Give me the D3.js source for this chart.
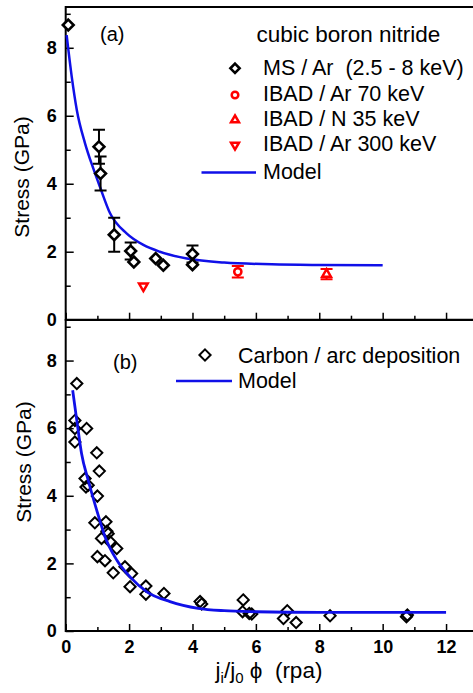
<!DOCTYPE html>
<html>
<head>
<meta charset="utf-8">
<script src="https://cdn.jsdelivr.net/npm/d3@7/dist/d3.min.js"></script>
<style>
  html, body { margin: 0; padding: 0; background: #fff; }
  svg { display: block; font-family: "Liberation Sans", Arial, sans-serif; }
</style>
</head>
<body>
<svg id="chart" width="473" height="693"></svg>
<script>
// ---- Panel (a): cubic boron nitride ----
const msX    = [0.08, 1.05, 1.1, 1.53, 2.05, 2.15, 2.84, 3.08, 4.0, 4.0];
const msY    = [8.67, 5.09, 4.3, 2.5, 2.02, 1.7, 1.8, 1.6, 1.93, 1.62];
const msErr  = [0, 0.5, 0.5, 0.5, 0.25, 0, 0, 0, 0.25, 0];
const ibadAr70X = [5.43], ibadAr70Y = [1.41], ibadAr70Err = [0.17];
const ibadN35X  = [8.23], ibadN35Y  = [1.34], ibadN35Err  = [0.15];
const ibadAr300X = [2.45], ibadAr300Y = [0.99];
const modelAX = [0.03, 0.19, 0.35, 0.61, 0.87, 1.08, 1.4, 1.92, 2.45, 2.97, 3.82, 5.0, 6.5, 8.0, 10.0];
const modelAY = [8.37, 7.15, 6.17, 5.19, 4.45, 3.91, 3.13, 2.54, 2.2, 2.0, 1.8, 1.68, 1.63, 1.61, 1.6];

// ---- Panel (b): carbon / arc deposition ----
const carbonX = [0.35, 0.29, 0.66, 0.29, 0.29, 0.98, 1.06, 0.61, 0.64, 0.71, 1.0, 0.92, 1.27, 1.3, 1.34,
                 1.13, 1.4, 1.61, 1.0, 1.24, 1.5, 1.87, 2.08, 2.03, 2.53, 2.53, 3.1, 4.24, 4.29, 5.6,
                 5.58, 5.79, 5.87, 6.99, 6.87, 7.27, 8.34, 10.78, 10.75];
const carbonY = [7.32, 6.23, 5.99, 5.99, 5.59, 5.27, 4.73, 4.51, 4.26, 4.31, 3.99, 3.2, 3.23, 2.95, 2.88,
                 2.74, 2.64, 2.44, 2.2, 2.08, 1.72, 1.9, 1.7, 1.31, 1.33, 1.09, 1.11, 0.87, 0.8, 0.92,
                 0.57, 0.52, 0.5, 0.6, 0.37, 0.25, 0.45, 0.47, 0.42];
const modelBX = [0.22, 0.35, 0.5, 0.71, 0.98, 1.24, 1.61, 2.03, 2.56, 3.29, 4.18, 5.0, 6.0, 8.0, 10.0, 12.0];
const modelBY = [7.12, 6.23, 5.25, 4.46, 3.57, 2.79, 2.1, 1.6, 1.16, 0.87, 0.67, 0.6, 0.57, 0.55, 0.55, 0.55];

// ---- Axis ticks ----
const xMajor = [0, 2, 4, 6, 8, 10, 12];
const xMinor = [1, 3, 5, 7, 9, 11];
const yMajor = [0, 2, 4, 6, 8];
const yMinor = [1, 3, 5, 7, 9];

const svg = d3.select("#chart");
const blue = "#1010e8", red = "#ff0000";

const x = d3.scaleLinear().domain([0, 12.85]).range([65.7, 473]);

function zip(xs, ys, extra) {
  return xs.map((v, i) => ({ x: v, y: ys[i], e: extra ? extra[i] : 0 }));
}

// square diamond (rotated square) with half-diagonal h
const diamond = h => `M0,${-h}L${h},0L0,${h}L${-h},0Z`;
// triangles with circumradius r
const triUpPath = r => `M0,${-r}L${r * 0.866},${r / 2}L${-r * 0.866},${r / 2}Z`;
const triDownPath = r => `M0,${r}L${r * 0.866},${-r / 2}L${-r * 0.866},${-r / 2}Z`;

function drawFrame(g, y, showXLabels) {
  const y0 = y.range()[0], y1 = y.range()[1];
  g.append("g").attr("transform", `translate(0,${y0})`)
    .call(d3.axisBottom(x).tickValues(xMinor).tickSizeInner(-4).tickSizeOuter(0).tickFormat(""))
    .call(a => a.select(".domain").remove())
    .call(a => a.selectAll("line").attr("stroke-width", 1.5));
  g.append("g").attr("transform", `translate(0,${y0})`)
    .call(d3.axisBottom(x).tickValues(xMajor).tickSizeInner(-7).tickSizeOuter(0).tickPadding(9)
      .tickFormat(showXLabels ? d3.format("d") : ""))
    .call(a => a.select(".domain").remove())
    .call(a => a.selectAll("line").attr("stroke-width", 1.5))
    .call(a => a.selectAll("text").attr("font-size", 18).attr("font-weight", "bold")
      .attr("font-family", "Liberation Sans, Arial, sans-serif").attr("fill", "#000"));
  g.append("g").attr("transform", `translate(${x(0)},0)`)
    .call(d3.axisLeft(y).tickValues(yMinor).tickSizeInner(-5).tickSizeOuter(0).tickFormat(""))
    .call(a => a.select(".domain").remove())
    .call(a => a.selectAll("line").attr("stroke-width", 1.5));
  g.append("g").attr("transform", `translate(${x(0)},0)`)
    .call(d3.axisLeft(y).tickValues(yMajor).tickSizeInner(-8).tickSizeOuter(0).tickPadding(9).tickFormat(d3.format("d")))
    .call(a => a.select(".domain").remove())
    .call(a => a.selectAll("line").attr("stroke-width", 1.5))
    .call(a => a.selectAll("text").attr("font-size", 18).attr("font-weight", "bold")
      .attr("font-family", "Liberation Sans, Arial, sans-serif").attr("fill", "#000"));
  g.append("path")
    .attr("d", `M${x.range()[1] + 2},${y1}H${x(0)}V${y0}H${x.range()[1] + 2}`)
    .attr("fill", "none").attr("stroke", "#000").attr("stroke-width", 2);
}

function yTitle(g, cx, cy) {
  g.append("text").attr("transform", `translate(${cx},${cy}) rotate(-90)`)
    .attr("text-anchor", "middle").attr("font-size", 21).text("Stress (GPa)");
}

// ================= Panel (a) =================
const yA = d3.scaleLinear().domain([0, 9.2]).range([319.7, 7]);
const gA = svg.append("g");
drawFrame(gA, yA, false);
yTitle(gA, 29, 177);

const lineA = d3.line().x(d => x(d.x)).y(d => yA(d.y)).curve(d3.curveMonotoneX);
gA.append("path").datum(zip(modelAX, modelAY)).attr("d", lineA)
  .attr("fill", "none").attr("stroke", blue).attr("stroke-width", 2.5);

function errorBars(g, data, y, color) {
  const eb = g.append("g").attr("stroke", color).attr("stroke-width", 2).attr("fill", "none");
  data.filter(d => d.e > 0).forEach(d => {
    const px = x(d.x), t = y(d.y + d.e), b = y(d.y - d.e);
    eb.append("path").attr("d", `M${px},${t}V${b}M${px - 6},${t}H${px + 6}M${px - 6},${b}H${px + 6}`);
  });
}
const msData = zip(msX, msY, msErr);
errorBars(gA, msData, yA, "#000");
errorBars(gA, zip(ibadAr70X, ibadAr70Y, ibadAr70Err), yA, red);
errorBars(gA, zip(ibadN35X, ibadN35Y, ibadN35Err), yA, red);

gA.append("g").selectAll("path").data(msData).join("path")
  .attr("d", diamond(5.4)).attr("transform", d => `translate(${x(d.x)},${yA(d.y)})`)
  .attr("fill", "#fff").attr("stroke", "#000").attr("stroke-width", 2.6);
gA.append("g").selectAll("circle").data(zip(ibadAr70X, ibadAr70Y)).join("circle")
  .attr("cx", d => x(d.x)).attr("cy", d => yA(d.y)).attr("r", 3.6)
  .attr("fill", "#fff").attr("stroke", red).attr("stroke-width", 2.5);
gA.append("g").selectAll("path").data(zip(ibadN35X, ibadN35Y)).join("path")
  .attr("d", triUpPath(5)).attr("transform", d => `translate(${x(d.x)},${yA(d.y)})`)
  .attr("fill", "#fff").attr("stroke", red).attr("stroke-width", 2.5);
gA.append("g").selectAll("path").data(zip(ibadAr300X, ibadAr300Y)).join("path")
  .attr("d", triDownPath(5)).attr("transform", d => `translate(${x(d.x)},${yA(d.y)})`)
  .attr("fill", "#fff").attr("stroke", red).attr("stroke-width", 2.5);

gA.append("text").attr("x", 100).attr("y", 41).attr("font-size", 20).text("(a)");

// legend (a)
const legA = gA.append("g").attr("font-size", 21.5);
legA.append("text").attr("x", 256.5).attr("y", 41.5).attr("font-size", 22.5).text("cubic boron nitride");
const legRowsA = [
  { label: "MS / Ar\u00a0\u00a0(2.5 - 8 keV)", y: 68.3, base: 74.5, kind: "diamond" },
  { label: "IBAD / Ar 70 keV", y: 95, base: 101, kind: "circle" },
  { label: "IBAD / N 35 keV", y: 120, base: 126, kind: "up" },
  { label: "IBAD / Ar 300 keV", y: 145, base: 151, kind: "down" }
];
legRowsA.forEach(r => {
  const sx = 235;
  if (r.kind === "diamond") {
    legA.append("path").attr("d", diamond(4.6)).attr("transform", `translate(${sx},${r.y})`)
      .attr("fill", "#fff").attr("stroke", "#000").attr("stroke-width", 2.6);
  } else if (r.kind === "circle") {
    legA.append("circle").attr("cx", sx).attr("cy", r.y).attr("r", 3.3)
      .attr("fill", "#fff").attr("stroke", red).attr("stroke-width", 2.5);
  } else if (r.kind === "up") {
    legA.append("path").attr("d", triUpPath(4.6)).attr("transform", `translate(${sx},${r.y})`)
      .attr("fill", "#fff").attr("stroke", red).attr("stroke-width", 2.5);
  } else {
    legA.append("path").attr("d", triDownPath(4.6)).attr("transform", `translate(${sx},${r.y})`)
      .attr("fill", "#fff").attr("stroke", red).attr("stroke-width", 2.5);
  }
  legA.append("text").attr("x", 263).attr("y", r.base).text(r.label);
});
legA.append("line").attr("x1", 201.5).attr("x2", 256).attr("y1", 172.5).attr("y2", 172.5)
  .attr("stroke", blue).attr("stroke-width", 2.5);
legA.append("text").attr("x", 263).attr("y", 179).text("Model");

// ================= Panel (b) =================
const yB = d3.scaleLinear().domain([0, 9.2]).range([631, 320]);
const gB = svg.append("g");
drawFrame(gB, yB, true);
yTitle(gB, 31, 462);

const lineB = d3.line().x(d => x(d.x)).y(d => yB(d.y)).curve(d3.curveMonotoneX);
gB.append("g").selectAll("path").data(zip(carbonX, carbonY)).join("path")
  .attr("d", diamond(5.6)).attr("transform", d => `translate(${x(d.x)},${yB(d.y)})`)
  .attr("fill", "none").attr("stroke", "#000").attr("stroke-width", 2);
gB.append("path").datum(zip(modelBX, modelBY)).attr("d", lineB)
  .attr("fill", "none").attr("stroke", blue).attr("stroke-width", 2.8);

gB.append("text").attr("x", 113).attr("y", 369).attr("font-size", 20).text("(b)");

const legB = gB.append("g").attr("font-size", 21.5);
legB.append("path").attr("d", diamond(5.6)).attr("transform", "translate(205,355)")
  .attr("fill", "none").attr("stroke", "#000").attr("stroke-width", 2);
legB.append("text").attr("x", 238).attr("y", 362.5).text("Carbon / arc deposition");
legB.append("line").attr("x1", 176).attr("x2", 232).attr("y1", 381).attr("y2", 381)
  .attr("stroke", blue).attr("stroke-width", 2.5);
legB.append("text").attr("x", 238).attr("y", 388).text("Model");

// x-axis title: j_i/j_0 φ (rpa)
const xt = svg.append("text").attr("x", 269).attr("y", 678).attr("text-anchor", "middle").attr("font-size", 22.5);
xt.append("tspan").text("j");
xt.append("tspan").attr("font-size", 15).attr("dy", 5).text("i");
xt.append("tspan").attr("dy", -5).text("/j");
xt.append("tspan").attr("font-size", 15).attr("dy", 5).text("0");
xt.append("tspan").attr("dy", -5).text("\u00a0\u03d5\u00a0\u00a0(rpa)");
</script>
</body>
</html>
